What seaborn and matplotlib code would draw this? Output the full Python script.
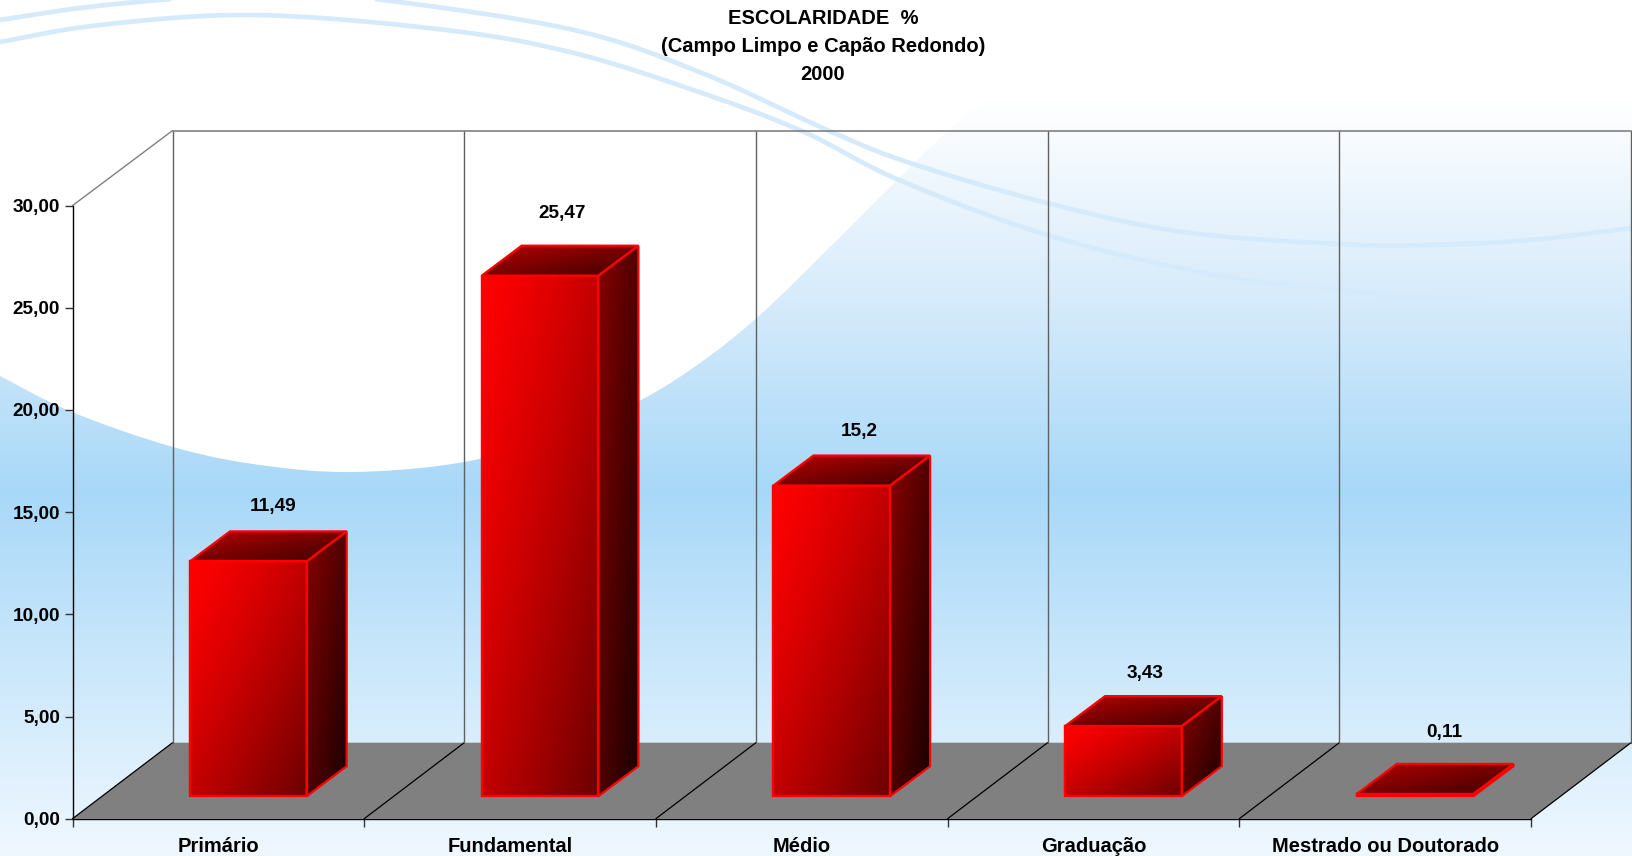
import numpy as np
import pandas as pd
import seaborn as sns
from matplotlib import pyplot as plt
from matplotlib import colors as mcolors
from matplotlib.patches import Polygon

categorias = ["Primário", "Fundamental", "Médio", "Graduação", "Mestrado ou Doutorado"]
valores = [11.49, 25.47, 15.2, 3.43, 0.11]
rotulos = ["11,49", "25,47", "15,2", "3,43", "0,11"]
y_ticks = [0, 5, 10, 15, 20, 25, 30]
y_tick_labels = ["0,00", "5,00", "10,00", "15,00", "20,00", "25,00", "30,00"]
titulo = "ESCOLARIDADE  %\n(Campo Limpo e Capão Redondo)\n2000"

W, H = 1632, 856
# plot box in pixels
LEFT, RIGHT, TOP, BOTTOM = 72.5, 1531, 205.6, 818.7
DEPTH_X, DEPTH_Y = 100, 75      # wall depth
FLOOR_Y = 76
BAR_OFF_X, BAR_OFF_Y = 30, 22.5  # bars start this far back on the floor
BAR_DX, BAR_DY = 40, 30          # bar depth
# label offset from the back of the bar top, pixels
label_pad = [(5, 25), (2, 32), (7, 24), (2, 23), (9, 31)]

sns.set_style("white")
plt.rcParams['font.family'] = ['Liberation Sans', 'DejaVu Sans']
plt.rcParams['text.color'] = 'black'
plt.rcParams['xtick.labelcolor'] = 'black'
plt.rcParams['ytick.labelcolor'] = 'black'

df = pd.DataFrame({"categoria": categorias, "valor": valores})


def smooth(pts, n=30):
    # catmull-rom through the given points
    pts = np.array(pts, dtype=float)
    p = np.vstack([pts[0], pts, pts[-1]])
    out = []
    for i in range(1, len(p) - 2):
        t = np.linspace(0, 1, n)[:, None]
        out.append(0.5 * (2 * p[i] + (p[i + 1] - p[i - 1]) * t
                          + (2 * p[i - 1] - 5 * p[i] + 4 * p[i + 1] - p[i + 2]) * t ** 2
                          + (3 * p[i] - p[i - 1] - 3 * p[i + 1] + p[i + 2]) * t ** 3))
    return np.vstack(out)


def diagonal(c0, c1, n=200, power=1.0):
    c0 = np.array(mcolors.to_rgb(c0))
    c1 = np.array(mcolors.to_rgb(c1))
    u, v = np.meshgrid(np.linspace(0, 1, n), np.linspace(0, 1, n))
    t = ((u + v) / 2)[..., None] ** power
    return c0 + (c1 - c0) * t


fig = plt.figure(figsize=(W / 100, H / 100), dpi=100)

# --- background
bg = fig.add_axes([0, 0, 1, 1], zorder=0)
stops_y = [0, 100, 300, 490, 856]
stops_c = np.array([mcolors.to_rgb(c) for c in ["#ffffff", "#ffffff", "#d6ebfb", "#a8d8f8", "#f0f8ff"]])
rows = np.arange(H)
grad = np.stack([np.interp(rows, stops_y, stops_c[:, i]) for i in range(3)], axis=1)[:, None, :]
bg.imshow(grad, aspect="auto", extent=(0, W, H, 0), interpolation="bilinear")
bg.set_xlim(0, W)
bg.set_ylim(H, 0)
bg.axis("off")

onda = smooth([(0, 376), (72, 412), (173, 447), (260, 465), (353, 472), (464, 462), (560, 435),
               (639, 401), (700, 363), (760, 315), (832, 245), (899, 178), (949, 130), (985, 100)])
bg.add_patch(Polygon(np.vstack([onda, [(985, -5), (-5, -5)]]), closed=True, fc="white", ec="none"))
for pts in ([(0, 20), (80, 8), (160, 0), (270, -8), (383, 0), (574, 30), (702, 73), (827, 130),
             (910, 163), (1047, 203), (1183, 232), (1338, 244), (1430, 245), (1530, 240), (1632, 228)],
            [(0, 42), (100, 25), (255, 15), (446, 30), (574, 53), (702, 93), (804, 132), (899, 180),
             (1047, 235), (1205, 273), (1338, 290), (1540, 307)]):
    c = smooth(pts)
    bg.plot(c[:, 0], c[:, 1], color="#d5ebfb", lw=3.4, solid_capstyle="butt")

# --- axes with the scales
pos = [LEFT / W, 1 - BOTTOM / H, (RIGHT - LEFT) / W, (BOTTOM - TOP) / H]
ax = fig.add_axes(pos, zorder=1, facecolor="none")
ax.set_xlim(-0.5, 4.5)
ax.set_ylim(0, 30)
x_per_px = 5 / (RIGHT - LEFT)
y_per_px = 30 / (BOTTOM - TOP)
depth_x = DEPTH_X * x_per_px
depth_y = DEPTH_Y * y_per_px
floor_y = FLOOR_Y * y_per_px

ax.add_patch(Polygon([(-0.5, 0), (4.5, 0), (4.5 + depth_x, floor_y), (-0.5 + depth_x, floor_y)],
                     closed=True, fc="#808080", ec="none", clip_on=False, zorder=1))
for e in np.arange(-0.5, 5, 1):
    ax.plot([e, e + depth_x], [0, floor_y], color="black", lw=0.9, clip_on=False, zorder=2)
    ax.plot([e + depth_x, e + depth_x], [floor_y, 30 + depth_y], color="#606060", lw=1.0, clip_on=False, zorder=2)
ax.plot([-0.5, -0.5 + depth_x], [30, 30 + depth_y], color="#808080", lw=1.0, clip_on=False, zorder=2)
ax.plot([-0.5 + depth_x, 4.5 + depth_x], [30 + depth_y, 30 + depth_y], color="#808080", lw=1.2, clip_on=False, zorder=2)

ax.set_yticks(y_ticks)
ax.set_yticklabels(y_tick_labels, fontsize=13.7, fontweight="bold", color="black")
ax.set_xticks(range(5))
ax.set_xticklabels(categorias, fontsize=14.5, fontweight="bold", color="black")
ax.set_xticks(np.arange(-0.5, 5, 1), minor=True)
ax.tick_params(axis="x", which="major", length=0, pad=13)
ax.tick_params(axis="x", which="minor", length=6, width=1, color="#333333", bottom=True)
ax.tick_params(axis="y", length=6, width=1, color="#333333", pad=3, left=True)
sns.despine(ax=ax, top=True, right=True)
for s in ["left", "bottom"]:
    ax.spines[s].set_color("black")
    ax.spines[s].set_linewidth(1.0)
    ax.spines[s].set_zorder(3)

# --- bars, same scales moved back on the floor
bar_pos = [(LEFT + BAR_OFF_X) / W, 1 - (BOTTOM - BAR_OFF_Y) / H, (RIGHT - LEFT) / W, (BOTTOM - TOP) / H]
bar_ax = fig.add_axes(bar_pos, zorder=2, facecolor="none")
sns.barplot(data=df, x="categoria", y="valor", ax=bar_ax, color="#ff0000", saturation=1,
            width=0.4, edgecolor="#ff0000", linewidth=1.6, zorder=3)
bar_ax.set_xlim(-0.5, 4.5)
bar_ax.set_ylim(0, 30)
bar_ax.autoscale(False)
bar_ax.axis("off")

bar_dx = BAR_DX * x_per_px
bar_dy = BAR_DY * y_per_px
EDGE = dict(fc="none", ec="#ff0000", lw=1.6, clip_on=False, joinstyle="miter", zorder=6)

for patch, texto, (px, py) in zip(bar_ax.patches, rotulos, label_pad):
    x0, w, h = patch.get_x(), patch.get_width(), patch.get_height()
    x1 = x0 + w
    side = [(x1, 0), (x1 + bar_dx, bar_dy), (x1 + bar_dx, h + bar_dy), (x1, h)]
    top = [(x0, h), (x1, h), (x1 + bar_dx, h + bar_dy), (x0 + bar_dx, h + bar_dy)]

    parts = [
        (patch.get_path().vertices * [w, h] + [x0, 0], (x0, x1, 0, h), diagonal("#ff0000", "#6a0000", power=1.3)),
        (np.array(side), (x1, x1 + bar_dx, 0, h + bar_dy), diagonal("#880000", "#180000")),
        (np.array(top), (x0, x1 + bar_dx, h, h + bar_dy), diagonal("#b80000", "#3a0000")),
    ]
    for verts, ext, img in parts:
        poly = Polygon(verts, closed=True, fc="none", ec="none", transform=bar_ax.transData)
        bar_ax.add_patch(poly)
        im = bar_ax.imshow(img, extent=(ext[0], ext[1], ext[2], ext[3]), aspect="auto", origin="upper",
                           zorder=4, interpolation="bilinear")
        im.set_clip_path(poly)
    bar_ax.add_patch(Polygon(side, closed=True, **EDGE))
    bar_ax.add_patch(Polygon(top, closed=True, **EDGE))
    bar_ax.add_patch(Polygon([(x0, 0), (x1, 0), (x1, h), (x0, h)], closed=True, **EDGE))

    bar_ax.annotate(texto, xy=(x0 + w / 2 + bar_dx / 2, h + bar_dy), xytext=(px * 0.72, py * 0.72),
                    textcoords="offset points", ha="center", va="center", fontsize=13.7,
                    fontweight="bold", color="black", zorder=7, annotation_clip=False)
bar_ax.set_xlim(-0.5, 4.5)
bar_ax.set_ylim(0, 30)

fig.text(823 / W, 1 - 46.5 / H, titulo, ha="center", va="center", fontsize=14.5,
         fontweight="bold", color="black", linespacing=1.59, zorder=5)

plt.savefig("out.png", dpi=100)
